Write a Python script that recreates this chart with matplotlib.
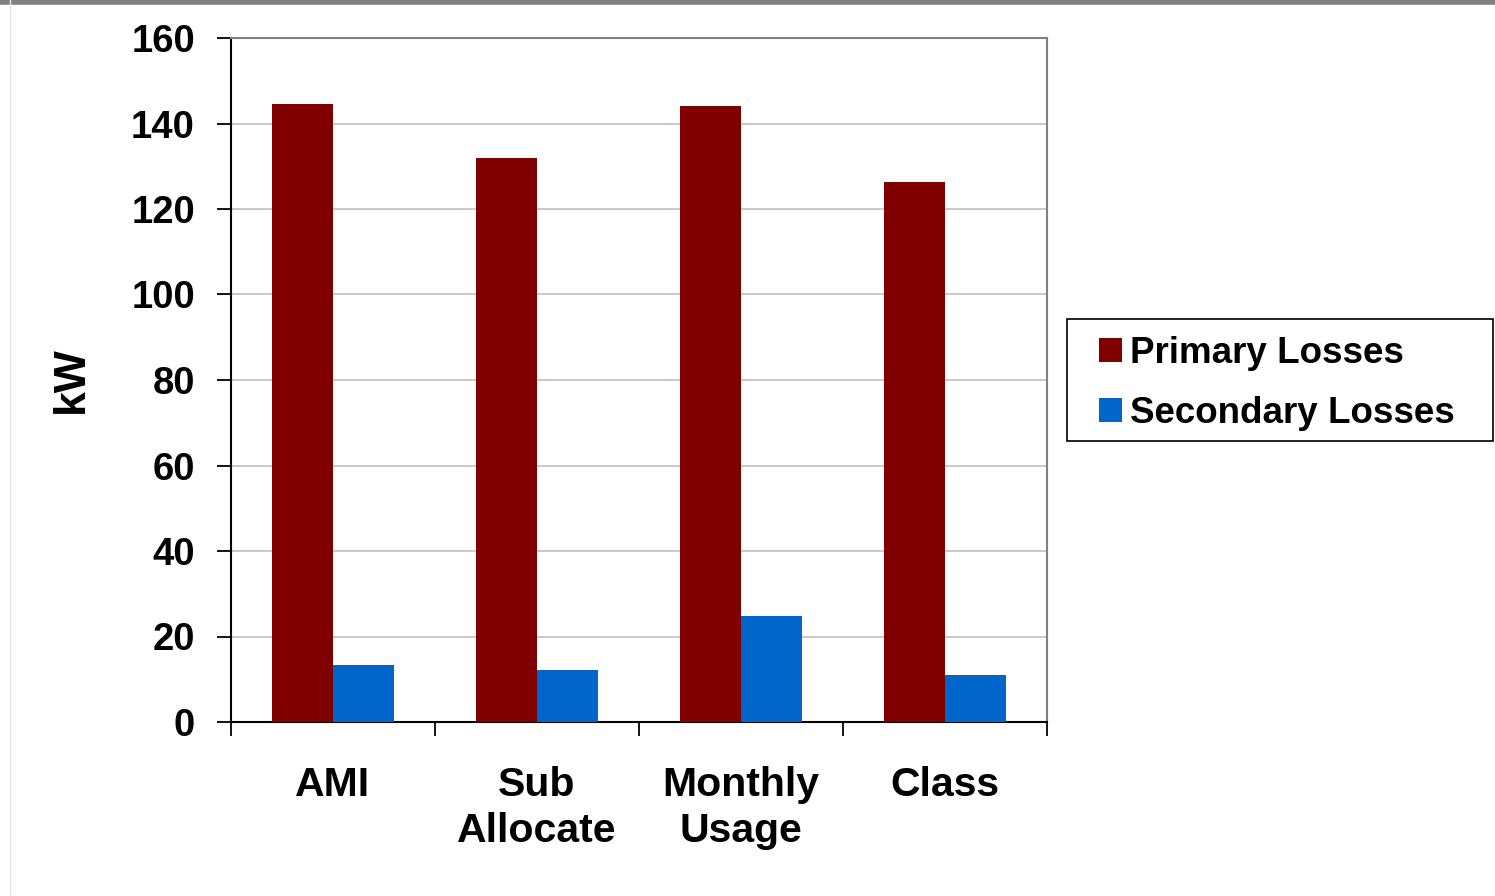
import numpy as np
import matplotlib.pyplot as plt
from matplotlib.lines import Line2D
from matplotlib.patches import Rectangle

categories = ['AMI', 'Sub\nAllocate', 'Monthly\nUsage', 'Class']
primary = [144.6, 131.9, 144.1, 126.3]
secondary = [13.3, 12.2, 24.8, 11.0]

plt.rcParams['font.family'] = ['Liberation Sans', 'DejaVu Sans']
plt.rcParams['font.weight'] = 'bold'

W, H = 1495, 896
fig = plt.figure(figsize=(W / 100, H / 100), dpi=100)
ax = fig.add_axes([231 / W, 1 - 722 / H, (1047 - 231) / W, (722 - 38) / H])

x = np.arange(len(categories))
w = 0.3
ax.bar(x - w / 2, primary, w, color='#800000', label='Primary Losses', zorder=3)
ax.bar(x + w / 2, secondary, w, color='#0066CC', label='Secondary Losses', zorder=3)

ax.set_xlim(-0.5, len(categories) - 0.5)
ax.set_ylim(0, 160)
ax.set_yticks(range(0, 161, 20))
ax.yaxis.grid(True, color='#c0c0c0', linewidth=1.2, zorder=0)
ax.set_axisbelow(True)

# category boundary ticks, labels at centres
ax.set_xticks(np.arange(-0.5, len(categories), 1.0))
ax.set_xticklabels([])
ax.set_xticks(x, minor=True)
ax.set_xticklabels(categories, minor=True, fontsize=29.5, fontweight='bold', linespacing=1.24)
ax.tick_params(axis='x', which='minor', length=0, pad=32)
ax.tick_params(axis='x', which='major', length=10, width=1.3, direction='out')
ax.tick_params(axis='y', length=10, width=1.3, direction='out', labelsize=27.5, pad=16)
for lab in ax.get_yticklabels():
    lab.set_fontweight('bold')

ax.spines['left'].set_linewidth(1.5)
ax.spines['bottom'].set_linewidth(1.5)
for s in ['top', 'right']:
    ax.spines[s].set_color('#808080')
    ax.spines[s].set_linewidth(1.5)

ax.set_ylabel('kW', fontsize=32, fontweight='bold')
ax.yaxis.set_label_coords((92 - 231) / 816, 0.5)

# legend box drawn separately so padding can differ per side
fig.add_artist(Rectangle((1067 / W, 1 - 441 / H), (1493 - 1067) / W, (441 - 319) / H,
                         transform=fig.transFigure, facecolor='white',
                         edgecolor='black', linewidth=1.2))
leg = fig.legend(loc='upper left', bbox_to_anchor=(1099 / W, 1 - 336 / H),
                 fontsize=26.5, frameon=False, handlelength=0.63,
                 handleheight=0.63, handletextpad=0.22, borderpad=0,
                 labelspacing=0.68, borderaxespad=0)
for t in leg.get_texts():
    t.set_fontweight('bold')

# slide frame lines
fig.add_artist(Line2D([0, 1], [1 - 2.5 / H, 1 - 2.5 / H], color='#808080', linewidth=4))
fig.add_artist(Line2D([10 / W, 10 / W], [0, 1], color='#e6e6e6', linewidth=1))

fig.savefig('out.png', dpi=100)
